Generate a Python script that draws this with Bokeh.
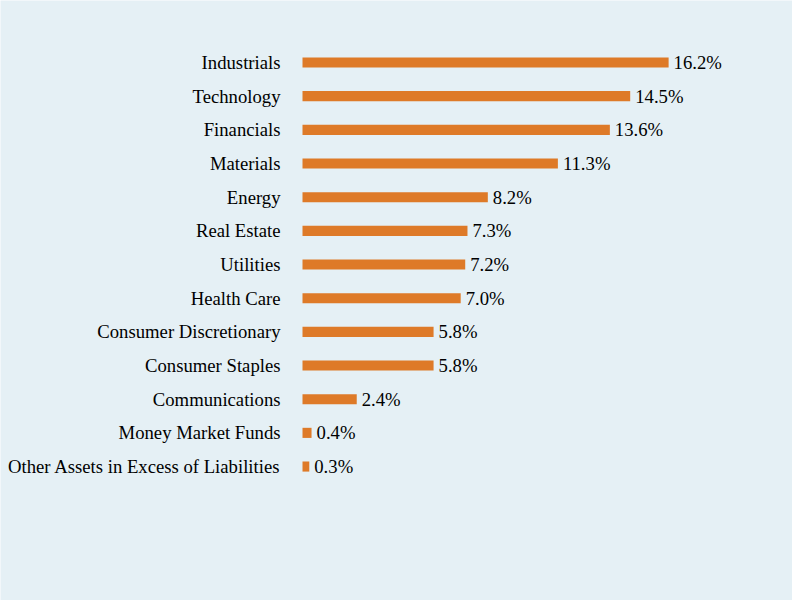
from bokeh.plotting import figure
from bokeh.models import ColumnDataSource, Range1d
from bokeh.core.properties import value
from bokeh.embed import file_html
from bokeh.resources import INLINE

sectors = ["Industrials", "Technology", "Financials", "Materials", "Energy",
           "Real Estate", "Utilities", "Health Care", "Consumer Discretionary",
           "Consumer Staples", "Communications", "Money Market Funds",
           "Other Assets in Excess of Liabilities"]
weights = [16.2, 14.5, 13.6, 11.3, 8.2, 7.3, 7.2, 7.0, 5.8, 5.8, 2.4, 0.4, 0.3]
value_labels = ["16.2%", "14.5%", "13.6%", "11.3%", "8.2%", "7.3%", "7.2%",
                "7.0%", "5.8%", "5.8%", "2.4%", "0.4%", "0.3%"]

BG = "#E5F0F5"
BAR = "#DE7A28"
FONT = "Liberation Serif"

pos = list(range(len(sectors)))
src = ColumnDataSource(dict(y=pos, w=weights, name=sectors, lab=value_labels,
                            zero=[0] * len(pos)))

W, H = 792, 600
PX_PER_PCT = 22.6
X0 = 302          # pixel of 0%
Y0 = 62           # pixel of first row centre
ROW = 33.67       # pixels per row

p = figure(width=W, height=H, output_backend="svg", toolbar_location=None,
           x_range=Range1d(-X0 / PX_PER_PCT, (W - X0) / PX_PER_PCT),
           y_range=Range1d((H - Y0) / ROW, -Y0 / ROW),
           min_border=0)
p.background_fill_color = BG
p.border_fill_color = BG
p.outline_line_color = None
p.axis.visible = False
p.grid.visible = False

p.hbar(y="y", left=0, right="w", height=0.3, source=src, fill_color=BAR,
       line_color=None)

p.text(x="zero", y="y", text="name", source=src, x_offset=-22,
       text_align="right", text_baseline="middle", text_font=value(FONT),
       text_font_size="18.7px", text_color="#000000")
p.text(x="w", y="y", text="lab", source=src, x_offset=5,
       text_align="left", text_baseline="middle", text_font=value(FONT),
       text_font_size="18.7px", text_color="#000000")

open("out.html", "w").write(file_html(p, INLINE))
